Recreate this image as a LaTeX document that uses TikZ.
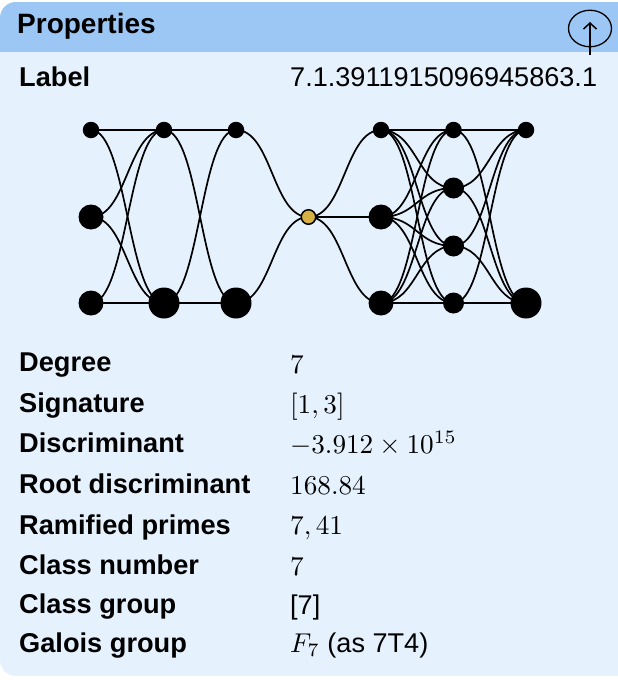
\documentclass[tikz,border=0pt]{standalone}
\usepackage{fontspec}
\setmainfont{Liberation Sans}
\usetikzlibrary{arrows.meta,shapes.geometric}
\pgfdeclarelayer{panel}
\pgfdeclarelayer{edges}
\pgfsetlayers{panel,edges,main}
\definecolor{headblue}{HTML}{9CC7F5}
\definecolor{panelblue}{HTML}{E5F2FD}
\definecolor{gold}{HTML}{D6AF45}
\newcommand{\mth}[1]{\scalebox{2.72}{\fontsize{10}{12}\selectfont$#1$}}
\tikzset{
  x=1pt,y=-1pt,
  dot/.style={circle,fill=black,inner sep=0pt,minimum size=#1},
  link/.style={line width=1.7pt,draw=black,out=0,in=180,out distance=36pt,in distance=36pt},
  key/.style={anchor=base west,inner sep=0pt,font=\fontsize{27.2}{30}\selectfont\bfseries},
  val/.style={anchor=base west,inner sep=0pt,font=\fontsize{27.1}{30}\selectfont},
}
\begin{document}
\begin{tikzpicture}
\useasboundingbox (0,0) rectangle (618,680);
\begin{pgfonlayer}{panel}
  \fill[white] (0,0) rectangle (618,680);
  \fill[panelblue,rounded corners=16pt] (0,2) rectangle (650,676);
  \begin{scope}
    \clip (0,0) rectangle (618,51);
    \fill[headblue,rounded corners=16pt] (0,2) rectangle (650,90);
  \end{scope}
\end{pgfonlayer}
% graph nodes
\node[dot=16.5pt] (a1) at (91,130) {};
\node[dot=25pt] (a2) at (91,217) {};
\node[dot=25pt] (a3) at (91,303) {};
\node[dot=16.5pt] (b1) at (164,130) {};
\node[dot=31pt] (b3) at (164,303) {};
\node[dot=16.5pt] (c1) at (236,130) {};
\node[dot=31pt] (c3) at (236,303) {};
\node[circle,draw=black,line width=1.5pt,fill=gold,inner sep=0pt,minimum size=14.5pt] (o) at (308.5,217) {};
\node[dot=16.5pt] (d1) at (381,130) {};
\node[dot=25pt] (d2) at (381,217) {};
\node[dot=25pt] (d3) at (381,303) {};
\node[dot=16.5pt] (e1) at (453.5,130) {};
\node[dot=21pt] (e2) at (453.5,188) {};
\node[dot=21pt] (e3) at (453.5,246) {};
\node[dot=21pt] (e4) at (453.5,303) {};
\node[dot=16.5pt] (f1) at (526,130) {};
\node[dot=31pt] (f3) at (526,303) {};
\begin{pgfonlayer}{edges}
  \foreach \u/\v in {a1/b1,a1/b3,a2/b1,a2/b3,a3/b1,a3/b3,
                     b1/c1,b1/c3,b3/c1,b3/c3,
                     c1/o,c3/o,o/d1,o/d2,o/d3,
                     d1/e1,d1/e2,d1/e3,d1/e4,
                     d2/e1,d2/e2,d2/e3,d2/e4,
                     d3/e1,d3/e2,d3/e3,d3/e4,
                     e1/f1,e2/f1,e3/f1,e4/f1,
                     e1/f3,e2/f3,e3/f3,e4/f3}
    \draw[link] (\u.center) to (\v.center);
\end{pgfonlayer}
% header
\node[key,font=\fontsize{28}{30}\selectfont\bfseries] (title) at (17,33.5) {Properties};
\node[ellipse,draw=black,line width=1.3pt,inner sep=0pt,minimum width=43pt,minimum height=36.5pt] (upc) at (590,28.5) {};
\coordinate (ups) at (590,54.5);
\coordinate (upe) at (590,22);
\draw[line width=1.8pt,-{Straight Barb[length=6pt,width=13pt,line width=1.5pt]}] (ups) -- (upe);
% table
\node[key] (kl) at (19,86) {Label};
\node[val] (vl) at (290,86) {7.1.3911915096945863.1};
\node[key] (k1) at (19,371) {Degree};
\node[val] (v1) at (290,373) {\mth{7}};
\node[key] (k2) at (19,412) {Signature};
\node[val] (v2) at (290,413) {\mth{[1,3]}};
\node[key] (k3) at (19,452) {Discriminant};
\node[val] (v3) at (290,453) {\mth{-3.912\times 10^{15}}};
\node[key] (k4) at (19,493) {Root discriminant};
\node[val] (v4) at (290,494) {\mth{168.84}};
\node[key] (k5) at (19,534) {Ramified primes};
\node[val] (v5) at (290,534) {\mth{7,41}};
\node[key] (k6) at (19,574) {Class number};
\node[val] (v6) at (290,575) {\mth{7}};
\node[key] (k7) at (19,613) {Class group};
\node[val] (v7) at (290,614) {[7]};
\node[key] (k8) at (19,652) {Galois group};
\node[val] (v8) at (290,652) {\mth{F_7} (as 7T4)};
\end{tikzpicture}
\end{document}
